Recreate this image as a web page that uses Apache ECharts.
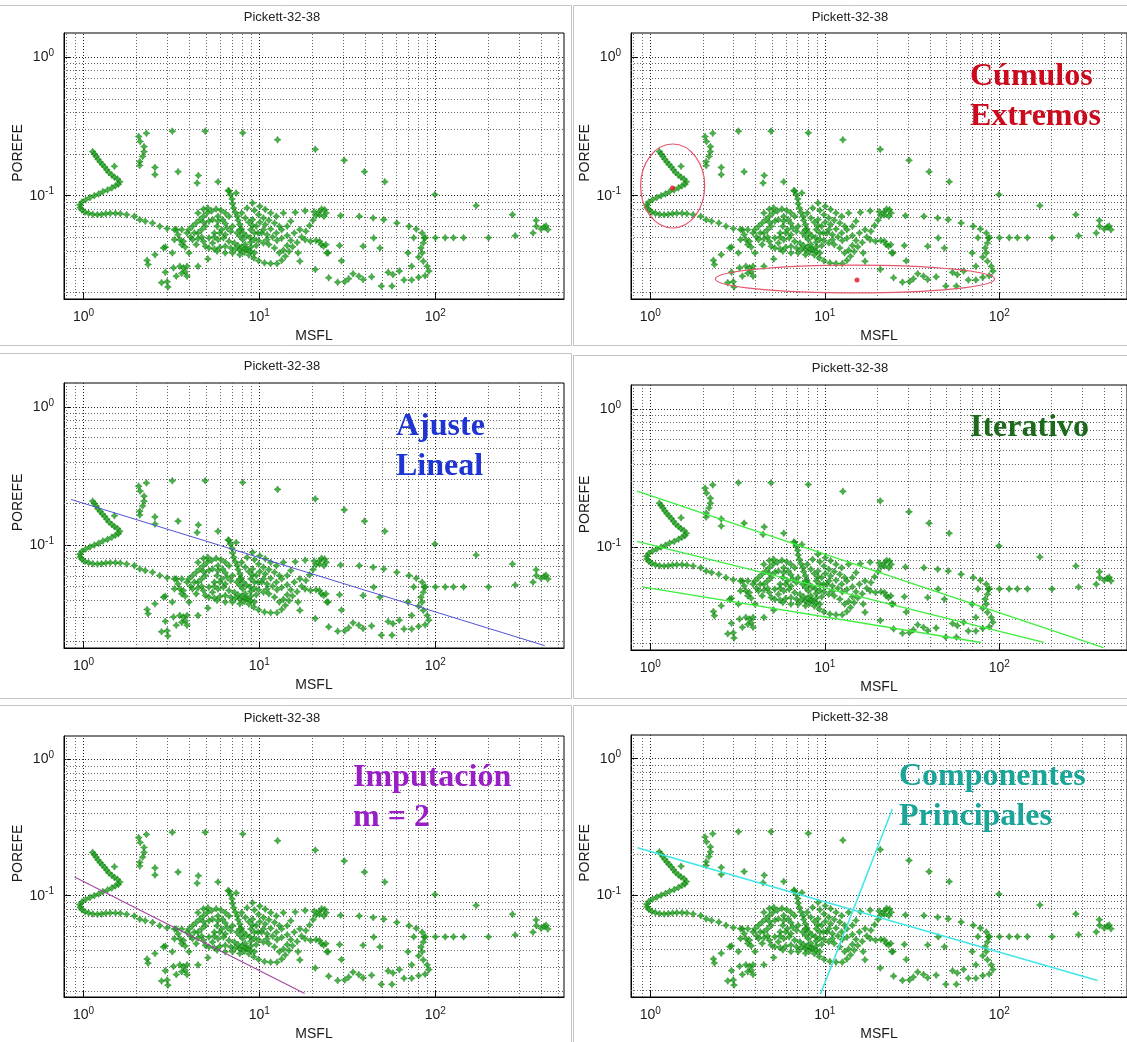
<!DOCTYPE html>
<html>
<head>
<meta charset="utf-8">
<title>Pickett-32-38</title>
<script src="https://cdn.jsdelivr.net/npm/echarts@6/dist/echarts.min.js"></script>
<style>
  html, body { margin: 0; padding: 0; background: #ffffff; }
  #c { width: 1127px; height: 1042px; }
</style>
</head>
<body>
<div id="c"></div>
<script>
// Pickett plot of well 32-38: MSFL resistivity vs effective porosity (POREFE)
const puntos = [
  // curl at low resistivity
  [1.127,0.208],[1.153,0.200],[1.18,0.192],[1.21,0.183],[1.245,0.175],[1.28,0.168],[1.32,0.161],
  [1.356,0.154],[1.395,0.147],[1.45,0.141],[1.50,0.136],[1.56,0.132],[1.609,0.126],[1.58,0.121],
  [1.52,0.118],[1.45,0.114],[1.37,0.110],[1.29,0.107],[1.22,0.103],[1.153,0.100],[1.09,0.097],
  [1.03,0.0936],[0.98,0.090],[0.954,0.086],[0.958,0.082],[0.98,0.0789],[1.02,0.0763],[1.07,0.0746],
  [1.13,0.0734],[1.20,0.0730],[1.268,0.0734],[1.34,0.0742],[1.42,0.0746],[1.52,0.0746],[1.62,0.0742],
  [1.76,0.073],[1.947,0.071],[2.09,0.0672],[2.245,0.0654],[2.47,0.0636],[2.716,0.0602],[2.99,0.058],
  [3.37,0.0569],
  // sparse high-porosity readings
  [1.50,0.163],[2.06,0.267],[2.10,0.246],[2.21,0.226],[2.21,0.208],[2.17,0.192],[2.09,0.176],
  [2.09,0.165],[2.28,0.282],[2.55,0.160],[2.55,0.142],[3.20,0.292],[3.45,0.149],[4.5,0.140],
  [4.43,0.1234],[4.92,0.292],[5.82,0.126],[6.72,0.108],[7.39,0.1045],[8.05,0.284],[12.7,0.253],
  [20.8,0.216],[30.4,0.180],[39.6,0.149],[51.7,0.126],[99.6,0.102],[171,0.0848],[275,0.073],
  [375,0.0663],
  // main cluster
  [3.45,0.0524],[3.53,0.0482],[3.62,0.0444],[3.79,0.0426],[3.70,0.0469],[3.88,0.0539],[3.98,0.0569],
  [4.17,0.0602],[4.375,0.0636],[4.59,0.0672],[4.81,0.071],[5.05,0.075],[5.35,0.0775],[5.68,0.0802],
  [6.05,0.0784],[6.40,0.075],[6.72,0.071],[4.81,0.080],[5.1,0.0815],[4.48,0.075],[4.07,0.0504],
  [4.48,0.0539],[4.70,0.0504],[4.81,0.0469],[4.375,0.0444],[5.17,0.0496],[5.55,0.0539],[5.96,0.0539],
  [6.4,0.0524],[6.88,0.0554],[5.75,0.0602],[5.17,0.0654],[5.82,0.0654],[6.40,0.063],[3.98,0.0387],
  [6.65,0.109],[6.85,0.1017],[7.0,0.0947],[7.04,0.0876],[7.15,0.0815],[7.3,0.0758],[7.5,0.071],
  [7.57,0.0665],[7.75,0.0619],[7.9,0.0575],[8.12,0.0539],[8.45,0.0513],[8.85,0.0498],[9.37,0.0485],
  [9.9,0.0475],[7.46,0.0539],[7.75,0.051],[8.05,0.0482],[7.75,0.0569],
  [5.17,0.042],[5.55,0.0413],[5.96,0.0424],[6.4,0.0432],[6.88,0.042],[7.32,0.0413],[7.75,0.0405],
  [8.2,0.0391],[8.72,0.0374],[9.3,0.0356],[9.9,0.034],[10.7,0.0328],[11.6,0.0324],[12.6,0.0324],
  [13.4,0.0342],[14.05,0.0366],[14.75,0.0396],[15.45,0.0428],[16.4,0.046],[17.4,0.0504],[18.4,0.0554],
  [19.3,0.0609],[20.2,0.0665],[21.0,0.0718],[21.9,0.0767],[22.6,0.0802],[23.5,0.0793],[24.0,0.075],
  [23.3,0.071],[22.0,0.073],[20.5,0.0767],
  [8.52,0.0815],[9.37,0.0784],[9.9,0.073],[10.55,0.0691],[11.33,0.0665],[12.2,0.0636],[13.0,0.0602],
  [13.7,0.075],[16.0,0.0758],[18.2,0.0777],[10.3,0.0539],[11.06,0.0524],[11.9,0.0504],[12.6,0.0475],
  [13.4,0.0493],[14.4,0.0516],[15.1,0.0475],[14.4,0.0437],[13.7,0.0405],[13.0,0.0387],[12.2,0.042],
  [11.33,0.0444],[10.55,0.0456],[9.6,0.0437],[8.94,0.0426],[8.32,0.0444],[15.8,0.0539],[17.0,0.0569],
  [16.6,0.0387],[17.0,0.0337],[18.2,0.0482],[19.55,0.0469],[21.0,0.0475],[22.0,0.0469],[22.5,0.0444],
  [23.2,0.0432],[23.9,0.0444],[24.6,0.0387],[20.8,0.0294],[24.8,0.0256],
  [5.42,0.0672],[4.93,0.0602],[4.70,0.0569],[4.27,0.0539],[4.17,0.0482],[4.48,0.0489],[4.93,0.0432],
  [5.55,0.0504],[6.25,0.0496],[6.72,0.0469],[7.21,0.0456],[7.57,0.0437],[7.93,0.0426],[8.52,0.0409],
  [8.94,0.0396],[9.37,0.0387],[7.04,0.0387],[7.75,0.0376],[9.83,0.0539],[10.55,0.0569],[12.5,0.0539],
  [13.4,0.0569],[14.4,0.0602],[15.1,0.0654],[12.5,0.071],[11.6,0.075],[10.8,0.0797],[10.06,0.0838],
  [9.15,0.0886],[7.93,0.075],[8.32,0.0691],[8.72,0.0643],[9.15,0.0609],[5.82,0.071],[6.18,0.0672],
  [4.81,0.0643],[3.29,0.0569],[3.62,0.0569],[6.11,0.0569],[6.56,0.0585],[7.04,0.0602],[8.94,0.0569],
  [9.6,0.0602],[9.15,0.0672],[10.06,0.0643],[10.8,0.0619],[11.6,0.0575],[11.06,0.0482],[9.37,0.0539],
  [8.94,0.0462],[8.32,0.0413],[6.4,0.0387],[5.75,0.0398],[5.82,0.0482],[5.42,0.0456],[3.29,0.0482],
  [2.92,0.0426],
  // low-porosity readings on the left
  [2.30,0.0342],[2.33,0.0319],[2.55,0.0376],[2.85,0.042],[2.92,0.0281],[2.78,0.0236],[2.99,0.024],
  [3.02,0.022],[3.37,0.0263],[3.25,0.0302],[3.53,0.031],[3.70,0.0302],[3.88,0.031],[3.79,0.0283],
  [3.62,0.0276],[3.88,0.0263],[4.48,0.031],[5.1,0.035],[3.2,0.0387],
  // high-resistivity side
  [29,0.0718],[37,0.071],[44.4,0.0691],[51,0.0672],[60.5,0.0636],[71,0.0602],[78,0.0575],[84.3,0.0539],
  [86.6,0.0496],[85.6,0.0456],[83,0.042],[84.3,0.0387],[80.5,0.0361],[85.6,0.0337],[90,0.031],
  [92,0.0286],[87.6,0.0265],[80.5,0.0258],[73.5,0.0247],[66.5,0.0247],[57.5,0.027],[56.8,0.0223],
  [49.4,0.0223],[43.5,0.026],[38.9,0.0249],[36.8,0.0263],[34.1,0.0274],[32.2,0.0252],[30.6,0.024],
  [27.9,0.0238],[48.5,0.042],[38.9,0.0432],[28.6,0.0437],[29.3,0.0339],[24.2,0.0387],[44.7,0.0496],
  [75.5,0.0498],[70,0.0387],[73.5,0.031],[62.5,0.0286],[54,0.028],
  [88,0.0498],[100.3,0.0498],[114,0.0498],[127,0.0498],[145,0.0498],[201,0.0498],[285,0.0514],
  [360,0.0539],[376,0.0602],[400,0.0575],[416,0.0595],[437,0.0569],[427,0.0605]
];

// points flagged inside the extreme clusters
const cumulosMarcados = [[1.34, 0.1137], [15.3, 0.0247]];
// extreme clusters: [MSFL range], [POREFE range]
const cumulosElipses = [
  { msfl: [0.88, 2.05], porefe: [0.0585, 0.236] },
  { msfl: [2.36, 94.2], porefe: [0.0199, 0.0316] }
];

// fitted lines (end points, MSFL / POREFE)
const ajusteLineal   = [[0.85, 0.214], [420, 0.0187]];
const iterativoSup   = [[0.84, 0.254], [395, 0.0187]];
const iterativoMed   = [[0.84, 0.110], [180, 0.0204]];
const iterativoInf   = [[0.90, 0.0515], [78.5, 0.0204]];
const imputacion     = [[0.89, 0.137], [18.1, 0.0191]];
const componente1    = [[0.845, 0.223], [366, 0.0238]];
const componente2    = [[9.45, 0.0189], [24.4, 0.428]];

// axis ranges and grid lines
const msflRango   = [0.775, 540];
const porefeRango = [0.018, 1.49];
const lineasMsfl   = [0.8, 0.9, 1, 2, 3, 4, 5, 6, 7, 8, 9, 10, 20, 30, 40, 50, 60, 70, 80, 90, 100, 200, 300, 400, 500];
const lineasPorefe = [0.02, 0.03, 0.04, 0.05, 0.06, 0.07, 0.08, 0.09, 0.1, 0.2, 0.3, 0.4, 0.5, 0.6, 0.7, 0.8, 0.9, 1];

const tituloPanel = 'Pickett-32-38';
const rotulos = [
  { panel: 1, lineas: ['Cúmulos', 'Extremos'], color: '#cc0a1e' },
  { panel: 2, lineas: ['Ajuste', 'Lineal'], color: '#1e35d2' },
  { panel: 3, lineas: ['Iterativo'], color: '#1d6a1d' },
  { panel: 4, lineas: ['Imputación', 'm = 2'], color: '#9a1ec6' },
  { panel: 5, lineas: ['Componentes', 'Principales'], color: '#1aa598' }
];

const FONT = '"Liberation Sans", Arial, sans-serif';
const SERIF = '"Liberation Serif", "Times New Roman", serif';

// panel layout: plot box of each of the six screenshots
const paneles = [
  { left: 64,  top: 33,  width: 500, height: 266, frame: [-1, 5, 572, 340],   titleX: 282, titleY: 17,  nameGapY: 30, rotuloXY: [970, 77] },
  { left: 631, top: 33,  width: 510, height: 266, frame: [573, 5, 560, 340],  titleX: 850, titleY: 17,  nameGapY: 35, rotuloXY: [970, 77] },
  { left: 64,  top: 383, width: 500, height: 265, frame: [-1, 353, 572, 345], titleX: 282, titleY: 366, nameGapY: 30, rotuloXY: [396, 427] },
  { left: 631, top: 385, width: 510, height: 265, frame: [573, 355, 560, 343], titleX: 850, titleY: 368, nameGapY: 35, rotuloXY: [970, 428] },
  { left: 64,  top: 736, width: 500, height: 264, frame: [-1, 705, 572, 345], titleX: 282, titleY: 718, nameGapY: 30, rotuloXY: [353, 778] },
  { left: 631, top: 735, width: 510, height: 264, frame: [573, 705, 560, 345], titleX: 850, titleY: 717, nameGapY: 35, rotuloXY: [899, 777] }
];

function potencia(v) {
  const e = Math.log10(v);
  const r = Math.round(e);
  if (Math.abs(e - r) > 1e-6) return '';
  return '{b|10}{s|' + r + '}';
}
const richPot = {
  b: { fontSize: 14, color: '#1a1a1a', fontFamily: FONT, lineHeight: 18 },
  s: { fontSize: 10, color: '#1a1a1a', fontFamily: FONT, verticalAlign: 'top', lineHeight: 10 }
};

const chart = echarts.init(document.getElementById('c'), null, { renderer: 'canvas' });

const grids = paneles.map(p => ({
  left: p.left, top: p.top, width: p.width, height: p.height,
  show: true, borderColor: '#000', borderWidth: 1, backgroundColor: '#fff'
}));

const xAxes = paneles.map((p, i) => ({
  type: 'log', logBase: 10, gridIndex: i,
  min: msflRango[0], max: msflRango[1],
  name: 'MSFL', nameLocation: 'middle', nameGap: 30,
  nameTextStyle: { fontSize: 14, color: '#1a1a1a', fontFamily: FONT },
  axisLine: { show: true, onZero: false, lineStyle: { color: '#000', width: 1 } },
  axisTick: { show: true, inside: true, length: 6, lineStyle: { color: '#000' } },
  axisLabel: { formatter: potencia, rich: richPot, margin: 9, showMinLabel: false, showMaxLabel: false },
  splitLine: { show: false }
}));

const yAxes = paneles.map((p, i) => ({
  type: 'log', logBase: 10, gridIndex: i,
  min: porefeRango[0], max: porefeRango[1],
  name: 'POREFE', nameLocation: 'middle', nameGap: p.nameGapY, nameRotate: 90,
  nameTextStyle: { fontSize: 14, color: '#1a1a1a', fontFamily: FONT, padding: [0, 0, 0, 26] },
  axisLine: { show: true, onZero: false, lineStyle: { color: '#000', width: 1 } },
  axisTick: { show: true, inside: true, length: 6, lineStyle: { color: '#000' } },
  axisLabel: { formatter: potencia, rich: richPot, margin: 10, showMinLabel: false, showMaxLabel: false },
  splitLine: { show: false }
}));

const mayores = [1, 10, 100];
const mayoresY = [0.1, 1];
const rejilla = {
  silent: true, symbol: ['none', 'none'], z: 1, animation: false,
  label: { show: false }, emphasis: { disabled: true },
  lineStyle: { type: [1, 2], color: '#666', width: 1 },
  data: lineasMsfl.map(v => ({ xAxis: v, lineStyle: mayores.includes(v) ? { color: '#222', type: [1, 2], width: 1 } : undefined }))
    .concat(lineasPorefe.map(v => ({ yAxis: v, lineStyle: mayoresY.includes(v) ? { color: '#222', type: [1, 2], width: 1 } : undefined })))
};

// four-pointed marker, like the plotting package's star glyph
const estrella = 'path://M0,-4 L1.5,-1.5 L4,0 L1.5,1.5 L0,4 L-1.5,1.5 L-4,0 L-1.5,-1.5 Z';

const series = [];
paneles.forEach((p, i) => {
  series.push({
    type: 'scatter', xAxisIndex: i, yAxisIndex: i, data: puntos,
    symbol: estrella, symbolSize: 7, z: 2,
    itemStyle: { color: '#18a018', borderColor: '#0c6e0c', borderWidth: 0.5 },
    animation: false, silent: true,
    markLine: rejilla
  });
});
series.push({
  type: 'scatter', xAxisIndex: 1, yAxisIndex: 1, data: cumulosMarcados,
  symbol: 'circle', symbolSize: 5, z: 4, itemStyle: { color: '#e8101a' }, animation: false, silent: true
});

function recta(idx, datos, color, ancho) {
  series.push({
    type: 'line', xAxisIndex: idx, yAxisIndex: idx, data: datos,
    showSymbol: false, symbol: 'none', z: 3, animation: false, silent: true,
    lineStyle: { color: color, width: ancho }
  });
}
recta(2, ajusteLineal, '#5252d6', 1);
recta(3, iterativoSup, '#3cee3c', 1.3);
recta(3, iterativoMed, '#3cee3c', 1.3);
recta(3, iterativoInf, '#3cee3c', 1.3);
recta(4, imputacion, '#a04aa4', 1.2);
recta(5, componente1, '#3fe6e6', 1.5);
recta(5, componente2, '#3fe6e6', 1.5);

const graphic = [];
paneles.forEach((p, i) => {
  graphic.push({
    type: 'rect', z: -10, silent: true,
    shape: { x: p.frame[0] + 0.5, y: p.frame[1] + 0.5, width: p.frame[2], height: p.frame[3] },
    style: { fill: 'none', stroke: '#c4c4c4', lineWidth: 1 }
  });
  graphic.push({
    type: 'text', silent: true, x: p.titleX, y: p.titleY, z: 10,
    style: { text: tituloPanel, fill: '#222', font: '13px ' + FONT, align: 'center', verticalAlign: 'middle' }
  });
});
rotulos.forEach(r => {
  const p = paneles[r.panel];
  r.lineas.forEach((t, k) => {
    graphic.push({
      type: 'text', silent: true, x: p.rotuloXY[0], y: p.rotuloXY[1] + k * 40, z: 20,
      style: { text: t, fill: r.color, font: 'bold 32px ' + SERIF, align: 'left', verticalAlign: 'middle' }
    });
  });
});

chart.setOption({
  backgroundColor: '#ffffff',
  animation: false,
  grid: grids,
  xAxis: xAxes,
  yAxis: yAxes,
  series: series,
  graphic: graphic
});

// outline the extreme clusters on the second panel, placed through the axes
const elipses = cumulosElipses.map(e => {
  const a = chart.convertToPixel({ gridIndex: 1 }, [e.msfl[0], e.porefe[1]]);
  const b = chart.convertToPixel({ gridIndex: 1 }, [e.msfl[1], e.porefe[0]]);
  return {
    type: 'ellipse', silent: true, z: 15,
    shape: { cx: (a[0] + b[0]) / 2, cy: (a[1] + b[1]) / 2, rx: Math.abs(b[0] - a[0]) / 2, ry: Math.abs(b[1] - a[1]) / 2 },
    style: { fill: 'none', stroke: '#e5566c', lineWidth: 1.2 }
  };
});
chart.setOption({ graphic: graphic.concat(elipses) });
</script>
</body>
</html>
